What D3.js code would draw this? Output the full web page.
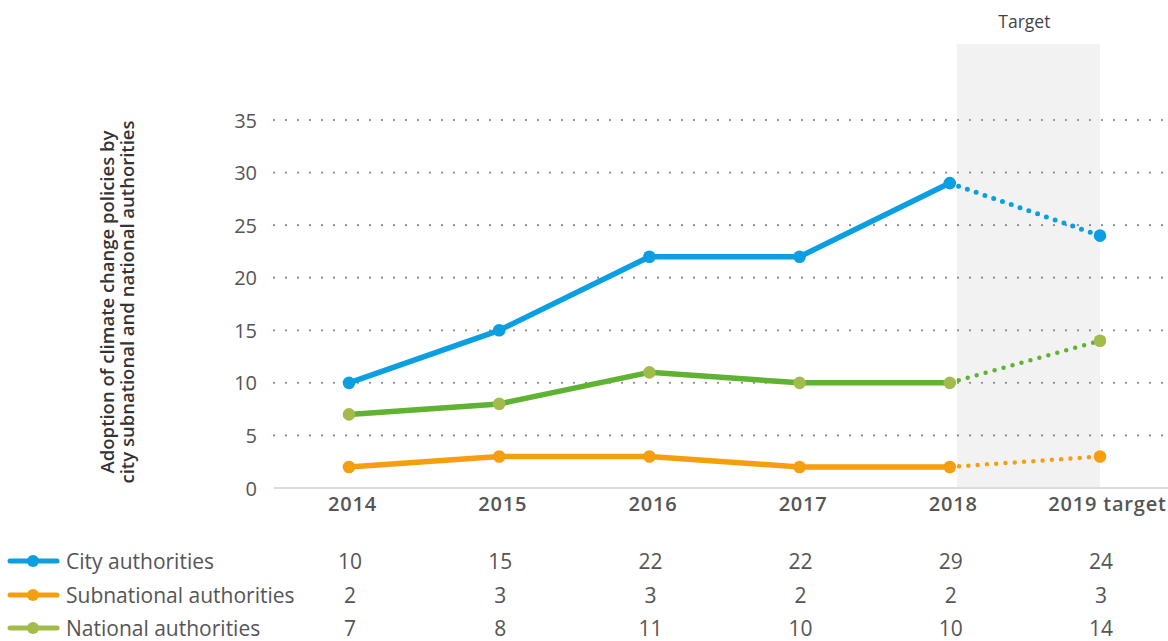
<!DOCTYPE html>
<html><head><meta charset="utf-8">
<script src="https://cdn.jsdelivr.net/npm/d3@7"></script>
<style>
body{margin:0;background:#fff;}
svg{display:block;font-family:"Open Sans",sans-serif;}
</style></head>
<body><svg id="c" width="1168" height="641"></svg>
<script>
const categories = ["2014","2015","2016","2017","2018","2019 target"];
const cityValues = [10,15,22,22,29,24];
const subnationalValues = [2,3,3,2,2,3];
const nationalValues = [7,8,11,10,10,14];
const seriesNames = ["City authorities","Subnational authorities","National authorities"];
const yTicks = [0,5,10,15,20,25,30,35];
const targetLabel = "Target";
const yTitle = ["Adoption of climate change policies by","city subnational and national authorities"];

const series = [
  {name:seriesNames[0], values:cityValues, line:"#0a9fe2", marker:"#0a9fe2", legend:"#0a9fe2", dotW:5},
  {name:seriesNames[1], values:subnationalValues, line:"#f59f10", marker:"#f59f10", legend:"#f59f10", dotW:4.5},
  {name:seriesNames[2], values:nationalValues, line:"#5fb232", marker:"#a3bb4b", legend:"#a3bb4b", dotW:4.5}
];

const svg = d3.select("#c");
const x = d3.scalePoint().domain(categories).range([349,1100]);
const y = d3.scaleLinear().domain([0,35]).range([488,120]);

// target band
const bandX0 = x("2018")+7, bandX1 = x("2019 target");
svg.append("rect")
  .attr("x", bandX0).attr("y",44)
  .attr("width", bandX1-bandX0).attr("height", y(0)-44)
  .attr("fill","#f2f2f2");
svg.append("text").attr("x",(bandX0+bandX1)/2-4).attr("y",28)
  .attr("text-anchor","middle").attr("font-size",17.5).attr("fill","#444").text(targetLabel);

// grid
const gridG = svg.append("g");
gridG.selectAll("line").data(yTicks.filter(d=>d>0)).join("line")
  .attr("x1",274).attr("x2",1168).attr("y1",d=>y(d)).attr("y2",d=>y(d))
  .attr("stroke","#888").attr("stroke-width",2.2).attr("stroke-linecap","round")
  .attr("stroke-dasharray","0 12");
// baseline
svg.append("line").attr("x1",274).attr("x2",1168).attr("y1",y(0)).attr("y2",y(0))
  .attr("stroke","#dcdcdc").attr("stroke-width",2);

// y axis
const yAxis = d3.axisLeft(y).tickValues(yTicks).tickSize(0).tickPadding(0);
const yg = svg.append("g").attr("transform","translate(257,0)").call(yAxis);
yg.select(".domain").remove();
yg.selectAll("text").attr("font-size",20).attr("fill","#555").attr("font-family","Open Sans").attr("dy","0.35em");

// x axis
const xAxis = d3.axisBottom(x).tickSize(0).tickPadding(0);
const xg = svg.append("g").call(xAxis);
xg.select(".domain").remove();
xg.selectAll("text").attr("y",511).attr("dy",0).attr("dx",(d,i)=>i===categories.length-1?7:3)
  .attr("font-size",20).attr("font-weight",600)
  .attr("letter-spacing",0.8).attr("fill","#555").attr("font-family","Open Sans");

// y title
const yt = svg.append("text").attr("transform","translate(0,302) rotate(-90)")
  .attr("text-anchor","middle").attr("font-size",18.5).attr("font-weight",600).attr("fill","#333");
yt.append("tspan").attr("x",0).attr("y",114).text(yTitle[0]);
yt.append("tspan").attr("x",0).attr("y",134).text(yTitle[1]);

// lines
const line = d3.line().x(d=>x(d.c)).y(d=>y(d.v));
series.forEach(s=>{
  const pts = categories.map((c,i)=>({c, v:s.values[i]}));
  svg.append("path").datum(pts.slice(0,5)).attr("d",line)
    .attr("fill","none").attr("stroke",s.line).attr("stroke-width",5.5).attr("stroke-linejoin","round");
  svg.append("path").datum(pts.slice(4)).attr("d",line)
    .attr("fill","none").attr("stroke",s.line).attr("stroke-width",s.dotW).attr("stroke-linecap","round")
    .attr("stroke-dasharray","0 9.3");
});
series.forEach(s=>{
  const pts = categories.map((c,i)=>({c, v:s.values[i]}));
  svg.append("g").selectAll("circle").data(pts).join("circle")
    .attr("cx",d=>x(d.c)).attr("cy",d=>y(d.v)).attr("r",6.3).attr("fill",s.marker);
});

// legend table
const rowY = [561,595,628];
series.forEach((s,i)=>{
  const g = svg.append("g");
  g.append("line").attr("x1",10).attr("x2",57).attr("y1",rowY[i]).attr("y2",rowY[i])
    .attr("stroke",s.legend).attr("stroke-width",5).attr("stroke-linecap","round");
  g.append("circle").attr("cx",33).attr("cy",rowY[i]).attr("r",6).attr("fill",s.legend);
  g.append("text").attr("x",66).attr("y",rowY[i]).attr("dy","0.36em").attr("font-size",21)
    .attr("fill","#555").text(s.name);
  g.selectAll("text.v").data(s.values).join("text").attr("class","v")
    .attr("x",(d,j)=>x(categories[j])+1).attr("y",rowY[i]).attr("dy","0.36em")
    .attr("text-anchor","middle").attr("font-size",21).attr("fill","#555").text(d=>d);
});
</script></body></html>
